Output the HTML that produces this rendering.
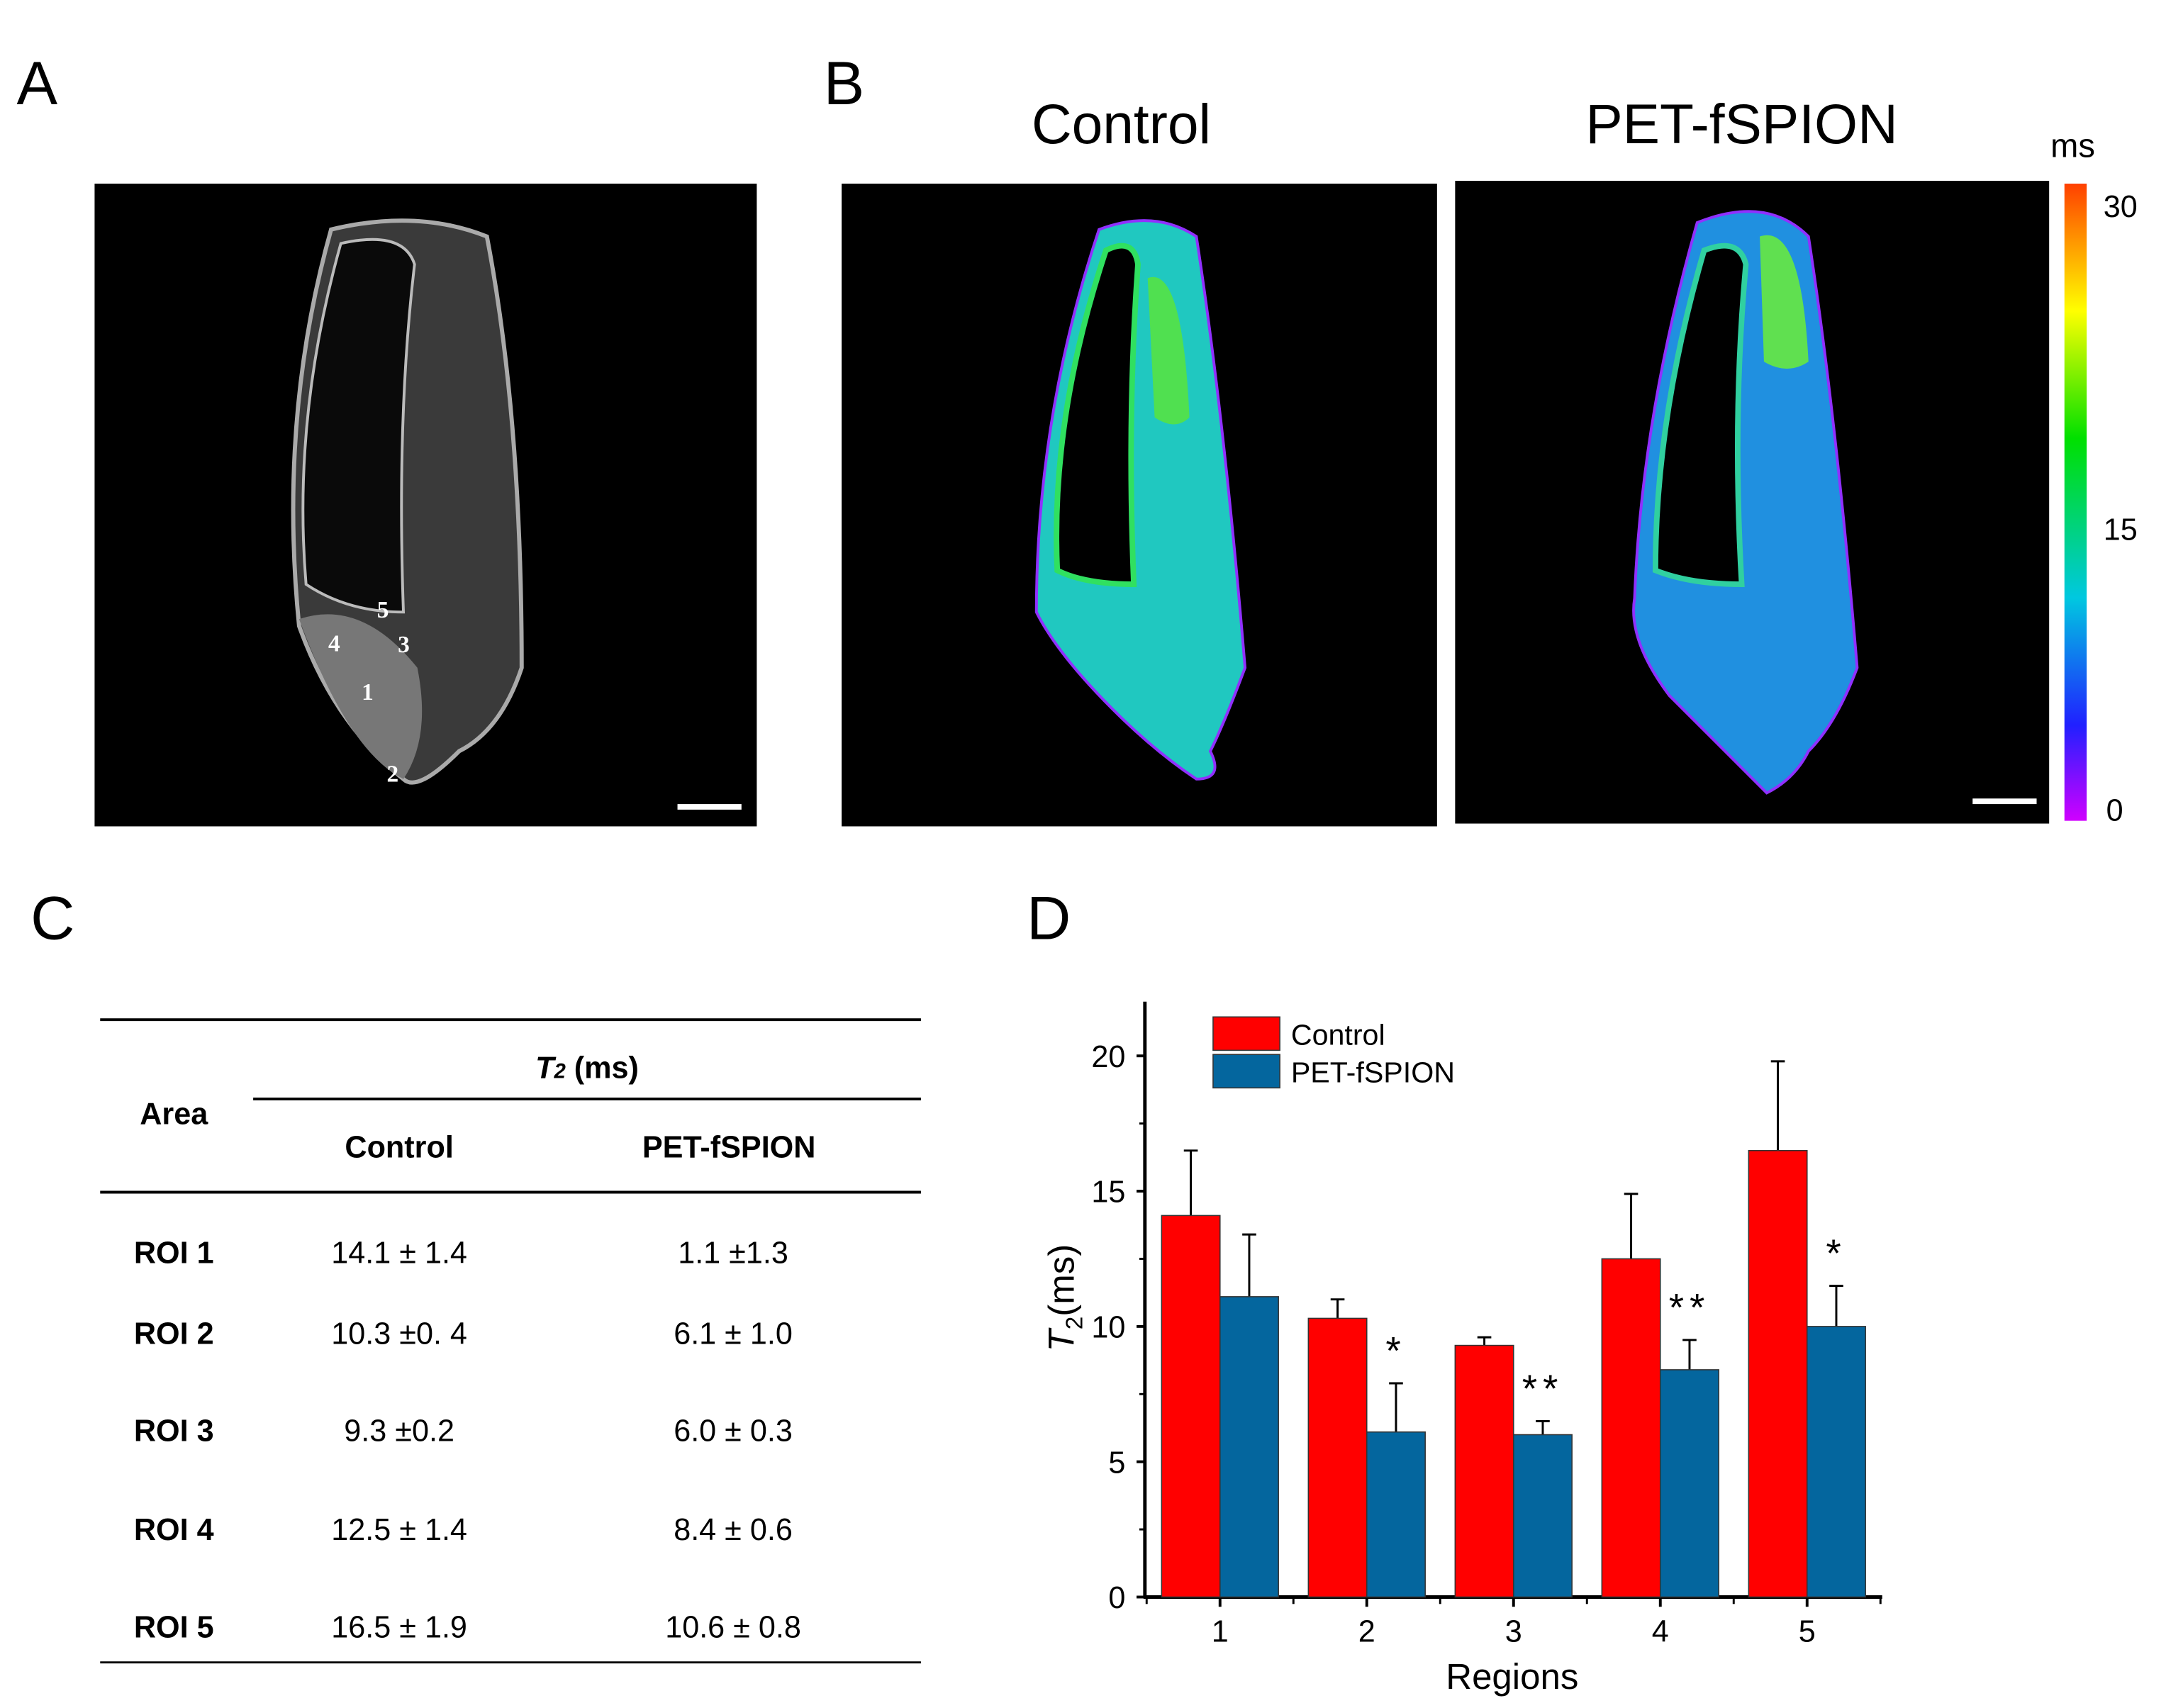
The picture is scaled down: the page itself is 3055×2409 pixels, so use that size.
<!DOCTYPE html>
<html><head><meta charset="utf-8"><style>
html,body{margin:0;padding:0;background:#fff;}
body{width:3055px;height:2409px;overflow:hidden;position:relative;font-family:"Liberation Sans",sans-serif;}
#wrap{position:absolute;left:0;top:0;width:1557px;height:1228px;transform:scale(1.9621);transform-origin:0 0;}
.abs{position:absolute;}
.lab{position:absolute;font-size:44px;color:#000;}
</style></head><body>
<div id="wrap">
<div class="lab" style="left:12px;top:36px">A</div>
<div class="lab" style="left:592px;top:36px">B</div>
<div class="lab" style="left:22px;top:636px">C</div>
<div class="lab" style="left:738px;top:636px">D</div>

<svg class="abs" style="left:0;top:0" width="1557" height="620">
<defs>
<linearGradient id="cb" x1="0" y1="1" x2="0" y2="0">
<stop offset="0" stop-color="#d000ff"/><stop offset="0.15" stop-color="#2020ff"/><stop offset="0.35" stop-color="#00c8e0"/><stop offset="0.6" stop-color="#00e000"/><stop offset="0.8" stop-color="#ffff00"/><stop offset="1" stop-color="#ff4000"/>
</linearGradient>
</defs>
<rect x="68" y="132" width="476" height="462" fill="#000"/>
<g fill="none">
<path d="M238,165 Q300,150 350,170 Q375,300 375,480 Q360,525 330,540 Q300,570 290,560 Q240,520 215,450 Q200,300 238,165Z" fill="#3a3a3a" stroke="#aaa" stroke-width="3"/>
<path d="M245,175 Q290,165 298,190 Q285,300 290,440 Q250,440 220,420 Q210,300 245,175Z" fill="#0a0a0a" stroke="#bbb" stroke-width="2"/>
<path d="M215,445 Q260,430 300,480 Q310,530 290,560 Q250,540 215,445Z" fill="#777"/>
</g>
<g font-family="Liberation Serif,serif" font-weight="bold" font-size="17" fill="#fff">
<text x="271" y="444">5</text><text x="286" y="469">3</text><text x="236" y="468">4</text><text x="260" y="503">1</text><text x="278" y="562">2</text>
</g>
<rect x="487" y="578" width="46" height="4" fill="#fff"/>
<rect x="605" y="132" width="428" height="462" fill="#000"/>
<g>
<path d="M790,165 Q830,150 860,170 Q880,300 895,480 Q880,520 870,540 Q880,560 860,560 Q830,540 800,510 Q760,470 745,440 Q745,300 790,165Z" fill="#20c8c0" stroke="#9030ff" stroke-width="2"/>
<path d="M795,180 Q815,170 818,190 Q810,300 815,420 Q780,420 760,410 Q755,300 795,180Z" fill="#000" stroke="#30e060" stroke-width="4"/>
<path d="M825,200 Q850,190 855,300 Q845,310 830,300Z" fill="#50e050"/>
</g>
<rect x="1046" y="130" width="427" height="462" fill="#000"/>
<g>
<path d="M1220,160 Q1270,140 1300,170 Q1320,300 1335,480 Q1320,520 1300,540 Q1290,560 1270,570 Q1230,530 1200,500 Q1170,460 1175,430 Q1180,300 1220,160Z" fill="#2090e0" stroke="#9030ff" stroke-width="2"/>
<path d="M1225,180 Q1250,170 1255,190 Q1245,300 1252,420 Q1215,420 1190,410 Q1190,300 1225,180Z" fill="#000" stroke="#30d0a0" stroke-width="4"/>
<path d="M1265,170 Q1295,160 1300,260 Q1285,270 1268,260Z" fill="#60e050"/>
</g>
<rect x="1418" y="574" width="46" height="4" fill="#fff"/>
<rect x="1484" y="132" width="16" height="458" fill="url(#cb)"/>
<g font-size="22" fill="#000">
<text x="1474" y="113" font-size="24">ms</text>
<text x="1512" y="156">30</text><text x="1512" y="388">15</text><text x="1514" y="590">0</text>
</g>
<text x="806" y="103" font-size="40" text-anchor="middle">Control</text>
<text x="1252" y="103" font-size="40" text-anchor="middle">PET-fSPION</text>
</svg>

<svg class="abs" style="left:0;top:620px" width="700" height="600">
<g stroke="#000" stroke-width="2">
<line x1="72" y1="113" x2="662" y2="113"/><line x1="182" y1="170" x2="662" y2="170"/>
<line x1="72" y1="237" x2="662" y2="237"/><line x1="72" y1="575" x2="662" y2="575" stroke-width="1.5"/>
</g>
<g font-size="22" fill="#000" text-anchor="middle">
<text x="125" y="188" font-weight="bold">Area</text>
<text x="422" y="155" font-weight="bold"><tspan font-style="italic">T</tspan><tspan font-size="15" font-style="italic">2</tspan> (ms)</text>
<text x="287" y="212" font-weight="bold">Control</text>
<text x="524" y="212" font-weight="bold">PET-fSPION</text>
<g font-weight="bold"><text x="125" y="288">ROI 1</text><text x="125" y="346">ROI 2</text><text x="125" y="416">ROI 3</text><text x="125" y="487">ROI 4</text><text x="125" y="557">ROI 5</text></g>
<text x="287" y="288">14.1 ± 1.4</text><text x="287" y="346">10.3 ±0. 4</text><text x="287" y="416">9.3 ±0.2</text><text x="287" y="487">12.5 ± 1.4</text><text x="287" y="557">16.5 ± 1.9</text>
<text x="527" y="288">1.1 ±1.3</text><text x="527" y="346">6.1 ± 1.0</text><text x="527" y="416">6.0 ± 0.3</text><text x="527" y="487">8.4 ± 0.6</text><text x="527" y="557">10.6 ± 0.8</text>
</g>
</svg>

<svg id="chart" class="abs" style="left:0;top:0" width="1557" height="1228"></svg>
</div>
<script>
const categories=["1","2","3","4","5"];
const controlVals=[14.1,10.3,9.3,12.5,16.5];
const controlErr=[2.4,0.7,0.3,2.4,3.3];
const petVals=[11.1,6.1,6.0,8.4,10.0];
const petErr=[2.3,1.8,0.5,1.1,1.5];
const sigMarks=["","*","**","**","*"];
const yTicks=[0,5,10,15,20];
const svg=document.getElementById('chart');
const NS='http://www.w3.org/2000/svg';
const y0=1148,yPer=19.45,x0=877,xStep=105.5,bw=42;
const Y=v=>y0-v*yPer, X=i=>x0+i*xStep;
function mk(t,a){const e=document.createElementNS(NS,t);for(const k in a)e.setAttribute(k,a[k]);svg.appendChild(e);return e;}
let e;
e=mk('line',{x1:823,y1:720,x2:823,y2:y0,stroke:'#000','stroke-width':2.5});


e=mk('line',{x1:822,y1:y0,x2:1353,y2:y0,stroke:'#000','stroke-width':2.5});


yTicks.forEach((v,k)=>{
 mk('line',{x1:817,y1:Y(v),x2:823,y2:Y(v),stroke:'#000','stroke-width':2});
 if(k<yTicks.length-1) mk('line',{x1:819,y1:Y(v+2.5),x2:823,y2:Y(v+2.5),stroke:'#000','stroke-width':1.5});
 e=mk('text',{x:809,y:Y(v)+8,'font-size':22,'text-anchor':'end'});e.textContent=v;
 
 
});
categories.forEach((c,i)=>{
 const cx=X(i);
 mk('line',{x1:cx,y1:y0,x2:cx,y2:y0+7,stroke:'#000','stroke-width':2});
 mk('line',{x1:cx+xStep/2,y1:y0,x2:cx+xStep/2,y2:y0+5,stroke:'#000','stroke-width':1.5});
 if(i===0)mk('line',{x1:cx-xStep/2,y1:y0,x2:cx-xStep/2,y2:y0+5,stroke:'#000','stroke-width':1.5});
 e=mk('text',{x:cx,y:y0+32,'font-size':22,'text-anchor':'middle'});e.textContent=c;
 
 
 const ce=Y(controlVals[i]+controlErr[i]);
 mk('line',{x1:cx-bw/2,y1:Y(controlVals[i]),x2:cx-bw/2,y2:ce,stroke:'#000','stroke-width':1.5});
 mk('line',{x1:cx-bw/2-5,y1:ce,x2:cx-bw/2+5,y2:ce,stroke:'#000','stroke-width':1.5});
 const pe=Y(petVals[i]+petErr[i]);
 mk('line',{x1:cx+bw/2,y1:Y(petVals[i]),x2:cx+bw/2,y2:pe,stroke:'#000','stroke-width':1.5});
 mk('line',{x1:cx+bw/2-5,y1:pe,x2:cx+bw/2+5,y2:pe,stroke:'#000','stroke-width':1.5});
 e=mk('rect',{x:cx-bw,y:Y(controlVals[i]),width:bw,height:controlVals[i]*yPer,fill:'#ff0000',stroke:'#333','stroke-width':0.8});
 
 
 e=mk('rect',{x:cx,y:Y(petVals[i]),width:bw,height:petVals[i]*yPer,fill:'#04669e',stroke:'#333','stroke-width':0.8});
 
 
 if(sigMarks[i]){
  e=mk('text',{x:cx+bw/2,y:pe-14,'font-size':28,'text-anchor':'middle','letter-spacing':4});e.textContent=sigMarks[i];
  
  
 }
});
e=mk('rect',{x:872,y:731,width:48,height:24,fill:'#ff0000',stroke:'#333','stroke-width':0.8});


e=mk('rect',{x:872,y:758,width:48,height:24,fill:'#04669e',stroke:'#333','stroke-width':0.8});


e=mk('text',{x:928,y:751,'font-size':21});e.textContent='Control';


e=mk('text',{x:928,y:778,'font-size':21});e.textContent='PET-fSPION';


e=mk('text',{x:1087,y:1214,'font-size':26,'text-anchor':'middle'});e.textContent='Regions';


e=mk('text',{x:0,y:0,'font-size':26,'text-anchor':'middle',transform:'translate(772,933) rotate(-90)'});
e.innerHTML='<tspan font-style="italic">T</tspan><tspan font-size="17" dy="6">2</tspan><tspan dy="-6">(ms)</tspan>';


</script>
</body></html>
